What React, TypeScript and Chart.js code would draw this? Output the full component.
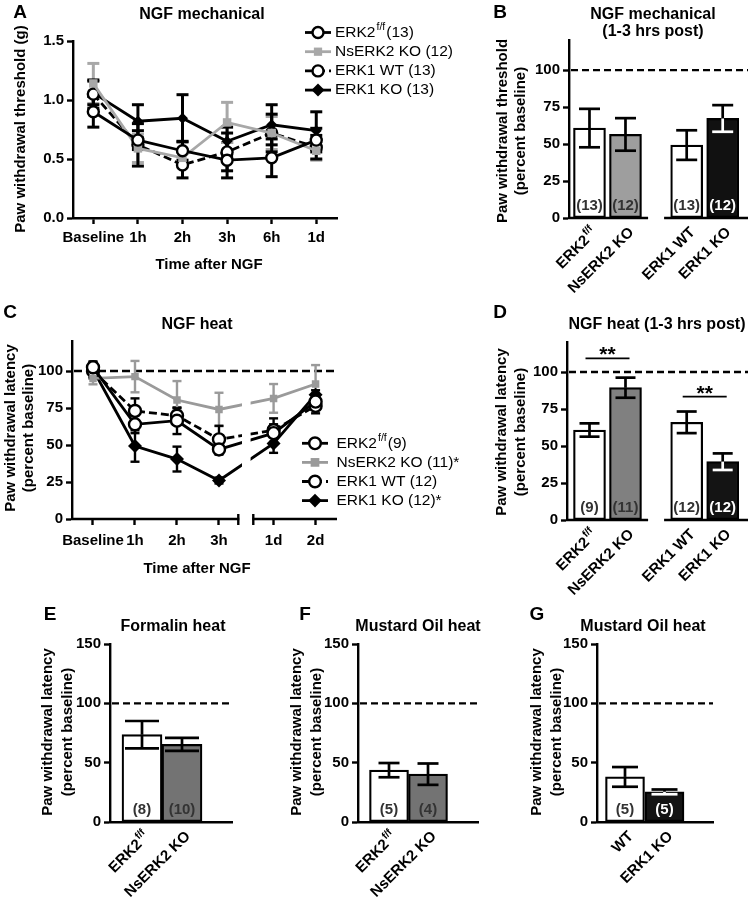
import { useEffect, useRef } from "react";
import { Chart, registerables } from "chart.js";

Chart.register(...registerables);

const FONT = "'Liberation Sans', Arial, Helvetica, sans-serif";
const W = 748;
const H = 899;

// ---------------- Data ----------------
// A: NGF mechanical, paw withdrawal threshold (g)
const mechTimes = ["Baseline", "1h", "2h", "3h", "6h", "1d"];
const mechErk2ff = [0.9, 0.66, 0.57, 0.49, 0.51, 0.66];
const mechErk2ffSem = [0.13, 0.08, 0.08, 0.15, 0.16, 0.1];
const mechNsErk2 = [1.14, 0.59, 0.51, 0.81, 0.72, 0.57];
const mechNsErk2Sem = [0.17, 0.12, 0.07, 0.17, 0.14, 0.08];
const mechErk1Wt = [1.05, 0.62, 0.45, 0.56, 0.72, 0.6];
const mechErk1WtSem = [0.12, 0.18, 0.11, 0.16, 0.16, 0.1];
const mechErk1Ko = [1.06, 0.82, 0.845, 0.65, 0.79, 0.74];
const mechErk1KoSem = [0.1, 0.14, 0.2, 0.12, 0.17, 0.16];
const mechLegend = ["ERK2^{f/f}(13)", "NsERK2 KO (12)", "ERK1 WT (13)", "ERK1 KO (13)"];

// C: NGF heat, percent baseline
const heatTimes = ["Baseline", "1h", "2h", "3h", "1d", "2d"];
const heatErk2ff = [102.5, 64, 66.4, 47, 58, 79.3];
const heatErk2ffSem = [4, 6, 9, 3.5, 6, 4];
const heatNsErk2 = [95, 96.2, 80.4, 74, 81.5, 91.2];
const heatNsErk2Sem = [4, 10.6, 12.8, 11.3, 9.7, 12.8];
const heatErk1Wt = [100, 73, 69.8, 53.8, 60, 76.4];
const heatErk1WtSem = [5, 8.5, 5, 9.2, 8, 5];
const heatErk1Ko = [101, 49.3, 40.5, 26, 51, 84];
const heatErk1KoSem = [5, 10.6, 8.4, 2, 6.3, 3];
const heatLegend = ["ERK2^{f/f}(9)", "NsERK2 KO (11)*", "ERK1 WT (12)", "ERK1 KO (12)*"];

// B: NGF mechanical (1-3 hrs post)
const groupLabels = ["ERK2^{f/f}", "NsERK2 KO", "ERK1 WT", "ERK1 KO"];
const mechPostMean = [60.8, 56.5, 49.3, 67.3];
const mechPostSem = [13, 11, 10, 9];
const mechPostN = ["(13)", "(12)", "(13)", "(12)"];

// D: NGF heat (1-3 hrs post)
const heatPostMean = [60.8, 89.4, 66, 39.4];
const heatPostSem = [4.5, 6.8, 7.3, 5.6];
const heatPostN = ["(9)", "(11)", "(12)", "(12)"];

// E: Formalin heat
const formalinLabels = ["ERK2^{f/f}", "NsERK2 KO"];
const formalinMean = [73.6, 65.4];
const formalinSem = [11.5, 5.5];
const formalinN = ["(8)", "(10)"];

// F: Mustard Oil heat (ERK2)
const mustardErk2Labels = ["ERK2^{f/f}", "NsERK2 KO"];
const mustardErk2Mean = [43.7, 40.3];
const mustardErk2Sem = [6, 9];
const mustardErk2N = ["(5)", "(4)"];

// G: Mustard Oil heat (ERK1)
const mustardErk1Labels = ["WT", "ERK1 KO"];
const mustardErk1Mean = [38, 25.4];
const mustardErk1Sem = [8.3, 2];
const mustardErk1N = ["(5)", "(5)"];

const pctTicks = [0, 25, 50, 75, 100];
const pctTicksWide = [0, 50, 100, 150];
const gramTicks = [0, 0.5, 1, 1.5];

// ---------------- Helpers ----------------
type Txt = { s: string; x: number; y: number; size: number; weight?: string; rot?: number; align?: CanvasTextAlign; color?: string };

function richParts(s: string) {
  const parts: { t: string; sup: boolean }[] = [];
  const re = /\^\{([^}]*)\}/g;
  let last = 0;
  let m: RegExpExecArray | null;
  while ((m = re.exec(s))) {
    if (m.index > last) parts.push({ t: s.slice(last, m.index), sup: false });
    parts.push({ t: m[1], sup: true });
    last = re.lastIndex;
  }
  if (last < s.length) parts.push({ t: s.slice(last), sup: false });
  return parts;
}

function drawRich(ctx: CanvasRenderingContext2D, s: string, x: number, y: number, size: number, weight: string, align: CanvasTextAlign, color: string) {
  const parts = richParts(s);
  const fontFor = (sup: boolean) => `${weight} ${sup ? size * 0.68 : size}px ${FONT}`;
  let total = 0;
  const widths = parts.map((p) => {
    ctx.font = fontFor(p.sup);
    const w = ctx.measureText(p.t).width + (p.sup ? 2 : 0);
    total += w;
    return w;
  });
  let cx = align === "left" ? x : align === "right" ? x - total : x - total / 2;
  ctx.textAlign = "left";
  ctx.fillStyle = color;
  parts.forEach((p, i) => {
    ctx.font = fontFor(p.sup);
    ctx.fillText(p.t, cx + (p.sup ? 1 : 0), p.sup ? y - size * 0.36 : y);
    cx += widths[i];
  });
}

function drawTxt(ctx: CanvasRenderingContext2D, t: Txt) {
  ctx.save();
  ctx.translate(t.x, t.y);
  if (t.rot) ctx.rotate(t.rot);
  ctx.textBaseline = "middle";
  drawRich(ctx, t.s, 0, 0, t.size, t.weight ?? "bold", t.align ?? "center", t.color ?? "#000");
  ctx.restore();
}

function seg(ctx: CanvasRenderingContext2D, x1: number, y1: number, x2: number, y2: number) {
  ctx.beginPath();
  ctx.moveTo(x1, y1);
  ctx.lineTo(x2, y2);
  ctx.stroke();
}

function pad(l: number, t: number, r: number, b: number, wy: number, hx: number) {
  return { left: l - wy, top: t, right: W - r, bottom: H - b - hx };
}

const tickFont = { family: FONT, size: 15, weight: "bold" as const };
const AXIS_W = 2.4;

function yAxis(max: number, ticks: number[], dec: number, wy: number) {
  return {
    type: "linear" as const,
    min: 0,
    max,
    afterBuildTicks: (s: any) => {
      s.ticks = ticks.map((v) => ({ value: v }));
    },
    afterFit: (s: any) => {
      s.width = wy;
    },
    ticks: { color: "#000", font: tickFont, padding: 3, callback: (v: any) => Number(v).toFixed(dec) },
    grid: { display: true, drawOnChartArea: false, drawTicks: true, tickLength: 6, tickWidth: AXIS_W, tickColor: "#000" },
    border: { display: true, color: "#000", width: AXIS_W },
  };
}

function xLinear(min: number, max: number, pos: number[], labels: string[], hx: number, padding: number, border: boolean) {
  return {
    type: "linear" as const,
    min,
    max,
    offset: false,
    afterBuildTicks: (s: any) => {
      s.ticks = pos.map((v) => ({ value: v }));
    },
    afterFit: (s: any) => {
      s.height = hx;
    },
    ticks: { autoSkip: false, maxRotation: 0, minRotation: 0, padding, color: "#000", font: tickFont, callback: (_v: any, i: number) => labels[i] },
    grid: { display: true, drawOnChartArea: false, drawTicks: true, tickLength: 6, tickWidth: AXIS_W, tickColor: "#000" },
    border: { display: border, color: "#000", width: AXIS_W },
  };
}

type Marker = "circle" | "square" | "diamond";
type SeriesStyle = { color: string; marker: Marker; dash: number[] };

function drawMarker(ctx: CanvasRenderingContext2D, m: Marker, x: number, y: number, color: string, r: number) {
  ctx.save();
  ctx.setLineDash([]);
  ctx.beginPath();
  if (m === "circle") {
    ctx.arc(x, y, r, 0, Math.PI * 2);
    ctx.fillStyle = "#fff";
    ctx.fill();
    ctx.lineWidth = 2.4;
    ctx.strokeStyle = color;
    ctx.stroke();
  } else if (m === "square") {
    ctx.fillStyle = color;
    ctx.fillRect(x - r * 0.75, y - r * 0.75, r * 1.5, r * 1.5);
  } else {
    ctx.moveTo(x - r, y);
    ctx.lineTo(x, y - r);
    ctx.lineTo(x + r, y);
    ctx.lineTo(x, y + r);
    ctx.closePath();
    ctx.fillStyle = color;
    ctx.fill();
  }
  ctx.restore();
}

function drawLegend(ctx: CanvasRenderingContext2D, styles: SeriesStyle[], labels: string[], mx: number, y0: number, dy: number, tx: number, size: number, r: number) {
  styles.forEach((st, i) => {
    const y = y0 + i * dy;
    ctx.save();
    ctx.strokeStyle = st.color;
    ctx.lineWidth = 2.8;
    ctx.setLineDash(st.dash);
    seg(ctx, mx - 13, y, mx + 13, y);
    ctx.restore();
    drawMarker(ctx, st.marker, mx, y, st.color, st.marker === "diamond" ? r + 1 : r);
    drawTxt(ctx, { s: labels[i], x: tx, y, size, weight: "normal", align: "left" });
  });
}

function lineDs(values: number[], sem: number[], pos: number[], st: SeriesStyle, sz: { circle: number; square: number; diamond: number }) {
  const ps = st.marker === "circle" ? "circle" : st.marker === "square" ? "rect" : "rectRot";
  const r = st.marker === "circle" ? sz.circle : st.marker === "square" ? sz.square : sz.diamond;
  return {
    data: values.map((v, i) => ({ x: pos[i], y: v })),
    errors: sem,
    errColor: st.color,
    borderColor: st.color,
    borderWidth: 2.8,
    borderDash: st.dash,
    pointStyle: ps,
    pointRadius: r,
    pointHoverRadius: r,
    pointBackgroundColor: st.marker === "circle" ? "#fff" : st.color,
    pointBorderColor: st.color,
    pointBorderWidth: st.marker === "circle" ? 2.4 : 0,
    tension: 0,
    fill: false,
  };
}

function drawErrBars(chart: any, cap: number, lw: number) {
  const ctx: CanvasRenderingContext2D = chart.ctx;
  const ys = chart.scales.y;
  chart.data.datasets.forEach((ds: any, di: number) => {
    if (!ds.errors) return;
    const meta = chart.getDatasetMeta(di);
    meta.data.forEach((el: any, j: number) => {
      const v = ds.data[j].y;
      const e = ds.errors[j];
      const x = el.x;
      const yc = ys.getPixelForValue(v);
      const yt = ys.getPixelForValue(v + e);
      const yb = ys.getPixelForValue(v - e);
      const up = Array.isArray(ds.errColor) ? ds.errColor[j] : ds.errColor;
      const down = ds.errColorDown ? ds.errColorDown[j] : up;
      ctx.save();
      ctx.lineWidth = lw;
      ctx.setLineDash([]);
      ctx.strokeStyle = up;
      seg(ctx, x, yc, x, yt);
      seg(ctx, x - cap / 2, yt, x + cap / 2, yt);
      ctx.strokeStyle = down;
      seg(ctx, x, yc, x, yb);
      seg(ctx, x - cap / 2, yb, x + cap / 2, yb);
      ctx.restore();
    });
  });
}

function drawRefLine(chart: any, value: number, dash: number[]) {
  const ctx: CanvasRenderingContext2D = chart.ctx;
  const a = chart.chartArea;
  const y = chart.scales.y.getPixelForValue(value);
  ctx.save();
  ctx.strokeStyle = "#000";
  ctx.lineWidth = 2.3;
  ctx.setLineDash(dash);
  seg(ctx, a.left + 2, y, a.right, y);
  ctx.restore();
}

const R90 = -Math.PI / 2;

const styleErk2ff: SeriesStyle = { color: "#000", marker: "circle", dash: [] };
const styleNsErk2A: SeriesStyle = { color: "#a8a8a8", marker: "square", dash: [] };
const styleNsErk2C: SeriesStyle = { color: "#9a9a9a", marker: "square", dash: [] };
const styleErk1Wt: SeriesStyle = { color: "#000", marker: "circle", dash: [8, 4] };
const styleErk1Ko: SeriesStyle = { color: "#000", marker: "diamond", dash: [] };

const baseOptions = {
  animation: false as const,
  responsive: false,
  devicePixelRatio: 1,
  events: [] as any[],
  plugins: { legend: { display: false }, tooltip: { enabled: false }, title: { display: false } },
};

// ---------------- Panel A ----------------
function configA() {
  const pos = mechTimes.map((_, i) => i);
  const stylesA = [styleErk2ff, styleNsErk2A, styleErk1Wt, styleErk1Ko];
  const sz = { circle: 5.5, square: 6, diamond: 5.5 };
  const texts: Txt[] = [
    { s: "A", x: 20, y: 13, size: 19 },
    { s: "NGF mechanical", x: 202, y: 15, size: 16 },
    { s: "Paw withdrawal threshold (g)", x: 21, y: 129, size: 15, rot: R90 },
    { s: "Time after NGF", x: 209, y: 265, size: 15 },
  ];
  return {
    type: "line" as const,
    data: {
      datasets: [
        lineDs(mechErk2ff, mechErk2ffSem, pos, styleErk2ff, sz),
        lineDs(mechNsErk2, mechNsErk2Sem, pos, styleNsErk2A, sz),
        lineDs(mechErk1Wt, mechErk1WtSem, pos, styleErk1Wt, sz),
        lineDs(mechErk1Ko, mechErk1KoSem, pos, styleErk1Ko, sz),
      ],
    },
    options: {
      ...baseOptions,
      layout: { padding: pad(73, 41, 337, 218, 60, 40) },
      scales: {
        x: xLinear(-0.456, 5.465, pos, mechTimes, 40, 5, true),
        y: yAxis(1.5, gramTicks, 1, 60),
      },
    },
    plugins: [
      {
        id: "panelA",
        beforeDatasetsDraw(chart: any) {
          drawErrBars(chart, 12, 3);
        },
        afterDraw(chart: any) {
          const ctx = chart.ctx;
          drawLegend(ctx, stylesA, mechLegend, 318, 32.5, 19.2, 335, 15.5, 5.5);
          texts.forEach((t) => drawTxt(ctx, t));
        },
      },
    ],
  };
}

// ---------------- Panel C ----------------
function configC() {
  const pos = heatTimes.map((_, i) => i + (i >= 4 ? 0.3 : 0));
  const stylesC = [styleErk2ff, styleNsErk2C, styleErk1Wt, styleErk1Ko];
  const sz = { circle: 6, square: 5.3, diamond: 7 };
  const texts: Txt[] = [
    { s: "C", x: 10, y: 313, size: 19 },
    { s: "NGF heat", x: 197, y: 325, size: 16 },
    { s: "Paw withdrawal latency", x: 11, y: 428, size: 15, rot: R90 },
    { s: "(percent baseline)", x: 28.5, y: 428, size: 15, rot: R90 },
    { s: "Time after NGF", x: 197, y: 569, size: 15 },
  ];
  const gapPos = (pos[3] + pos[4]) / 2;
  return {
    type: "line" as const,
    data: {
      datasets: [
        lineDs(heatErk2ff, heatErk2ffSem, pos, styleErk2ff, sz),
        lineDs(heatNsErk2, heatNsErk2Sem, pos, styleNsErk2C, sz),
        lineDs(heatErk1Wt, heatErk1WtSem, pos, styleErk1Wt, sz),
        lineDs(heatErk1Ko, heatErk1KoSem, pos, styleErk1Ko, sz),
      ],
    },
    options: {
      ...baseOptions,
      layout: { padding: pad(72, 341.4, 337, 519, 60, 40) },
      scales: {
        x: xLinear(-0.5, 5.81, pos, heatTimes, 40, 7, false),
        y: yAxis(120, pctTicks, 0, 60),
      },
    },
    plugins: [
      {
        id: "panelC",
        beforeDatasetsDraw(chart: any) {
          drawRefLine(chart, 100, [8, 4]);
          drawErrBars(chart, 9, 2.4);
        },
        afterDatasetsDraw(chart: any) {
          const ctx: CanvasRenderingContext2D = chart.ctx;
          const a = chart.chartArea;
          const gx = chart.scales.x.getPixelForValue(gapPos);
          // break in the data lines
          ctx.save();
          ctx.fillStyle = "#fff";
          ctx.fillRect(gx - 4.3, a.top - 2, 8.6, a.bottom - a.top);
          ctx.beginPath();
          ctx.rect(gx - 4.3, a.top - 2, 8.6, a.bottom - a.top);
          ctx.clip();
          drawRefLine(chart, 100, [8, 4]);
          ctx.restore();
          // broken x axis
          ctx.save();
          ctx.strokeStyle = "#000";
          ctx.lineWidth = AXIS_W;
          seg(ctx, a.left - 1, a.bottom, gx - 7, a.bottom);
          seg(ctx, gx + 6, a.bottom, a.right, a.bottom);
          seg(ctx, gx - 8, a.bottom - 5, gx - 8, a.bottom + 6);
          seg(ctx, gx + 7, a.bottom - 5, gx + 7, a.bottom + 6);
          ctx.restore();
        },
        afterDraw(chart: any) {
          const ctx = chart.ctx;
          drawLegend(ctx, stylesC, heatLegend, 315, 443.3, 19.1, 336.5, 15.5, 5.8);
          texts.forEach((t) => drawTxt(ctx, t));
        },
      },
    ],
  };
}

// ---------------- Bar panels ----------------
type BarSpec = {
  id: string;
  labels: string[];
  means: number[];
  sems: number[];
  ns: string[];
  fills: string[];
  pos: number[];
  thickness: number;
  area: [number, number, number, number];
  xMin: number;
  xMax: number;
  yMax: number;
  yTicks: number[];
  cap: number;
  breakAt?: number;
  sig?: [number, number, number][];
  texts: Txt[];
};

function isDark(c: string) {
  return c === "#111" || c === "#000" || c === "#141414";
}

function configBar(sp: BarSpec) {
  const [l, t, r, b] = sp.area;
  return {
    type: "bar" as const,
    data: {
      datasets: [
        {
          data: sp.means.map((v, i) => ({ x: sp.pos[i], y: v })),
          errors: sp.sems,
          errColor: "#000",
          errColorDown: sp.fills.map((f) => (isDark(f) ? "#fff" : "#000")),
          backgroundColor: sp.fills,
          borderColor: "#000",
          borderWidth: 2.2,
          borderSkipped: false,
          barThickness: sp.thickness,
        },
      ],
    },
    options: {
      ...baseOptions,
      layout: { padding: pad(l, t, r, b, 60, 10) },
      scales: {
        x: {
          type: "linear" as const,
          min: sp.xMin,
          max: sp.xMax,
          offset: false,
          afterFit: (s: any) => {
            s.height = 10;
          },
          ticks: { display: false },
          grid: { display: false },
          border: { display: sp.breakAt === undefined, color: "#000", width: AXIS_W },
        },
        y: yAxis(sp.yMax, sp.yTicks, 0, 60),
      },
    },
    plugins: [
      {
        id: sp.id,
        beforeDatasetsDraw(chart: any) {
          drawRefLine(chart, 100, [7, 4]);
        },
        afterDatasetsDraw(chart: any) {
          const ctx: CanvasRenderingContext2D = chart.ctx;
          const a = chart.chartArea;
          const xs = chart.scales.x;
          const ys = chart.scales.y;
          drawErrBars(chart, sp.cap, 2.7);
          const y0 = ys.getPixelForValue(0);
          sp.ns.forEach((n, i) => {
            drawTxt(ctx, { s: n, x: xs.getPixelForValue(sp.pos[i]), y: y0 - 12, size: 15, color: isDark(sp.fills[i]) ? "#fff" : "#333" });
          });
          if (sp.breakAt !== undefined) {
            const gx = xs.getPixelForValue(sp.breakAt);
            ctx.save();
            ctx.strokeStyle = "#000";
            ctx.lineWidth = AXIS_W;
            seg(ctx, a.left - 1, a.bottom, gx - 8, a.bottom);
            seg(ctx, gx + 8, a.bottom, a.right, a.bottom);
            ctx.restore();
          }
          (sp.sig || []).forEach(([i, j, off]) => {
            const x1 = xs.getPixelForValue(sp.pos[i]);
            const x2 = xs.getPixelForValue(sp.pos[j]);
            const top = Math.max(sp.means[i] + sp.sems[i], sp.means[j] + sp.sems[j]) + off;
            const y = ys.getPixelForValue(top);
            const mid = (x1 + x2) / 2;
            ctx.save();
            ctx.strokeStyle = "#000";
            ctx.lineWidth = 1.8;
            seg(ctx, mid - 22, y, mid + 22, y);
            ctx.font = `bold 21px ${FONT}`;
            ctx.textAlign = "center";
            ctx.textBaseline = "alphabetic";
            ctx.fillStyle = "#000";
            ctx.fillText("**", mid, y + 3);
            ctx.restore();
          });
        },
        afterDraw(chart: any) {
          const ctx: CanvasRenderingContext2D = chart.ctx;
          const a = chart.chartArea;
          const xs = chart.scales.x;
          sp.labels.forEach((lab, i) => {
            const x = xs.getPixelForValue(sp.pos[i]);
            drawTxt(ctx, { s: lab, x: x + 6, y: a.bottom + 12, size: 15, rot: -Math.PI / 4, align: "right" });
          });
          sp.texts.forEach((tx) => drawTxt(ctx, tx));
        },
      },
    ],
  };
}

const groupPos = groupLabels.map((_, i) => i + (i >= 2 ? 0.7 : 0));

function configB() {
  return configBar({
    id: "panelB",
    labels: groupLabels,
    means: mechPostMean,
    sems: mechPostSem,
    ns: mechPostN,
    fills: ["#fff", "#9e9e9e", "#fff", "#111"],
    pos: groupPos,
    thickness: 32,
    area: [569, 40.5, 748, 218],
    xMin: -0.569,
    xMax: 4.403,
    yMax: 120,
    yTicks: pctTicks,
    cap: 21,
    breakAt: 1.85,
    texts: [
      { s: "B", x: 500, y: 13, size: 19 },
      { s: "NGF mechanical", x: 653, y: 15, size: 16 },
      { s: "(1-3 hrs post)", x: 653, y: 32, size: 16 },
      { s: "Paw withdrawal threshold", x: 503, y: 131, size: 15, rot: R90 },
      { s: "(percent baseline)", x: 521, y: 131, size: 15, rot: R90 },
    ],
  });
}

function configD() {
  return configBar({
    id: "panelD",
    labels: groupLabels,
    means: heatPostMean,
    sems: heatPostSem,
    ns: heatPostN,
    fills: ["#fff", "#808080", "#fff", "#141414"],
    pos: groupPos,
    thickness: 32,
    area: [567, 342.4, 748, 520],
    xMin: -0.625,
    xMax: 4.403,
    yMax: 120,
    yTicks: pctTicks,
    cap: 20,
    breakAt: 1.85,
    sig: [
      [0, 1, 13],
      [2, 3, 10],
    ],
    texts: [
      { s: "D", x: 500, y: 313, size: 19 },
      { s: "NGF heat (1-3 hrs post)", x: 657, y: 325, size: 16 },
      { s: "Paw withdrawal latency", x: 502, y: 432, size: 15, rot: R90 },
      { s: "(percent baseline)", x: 521, y: 432, size: 15, rot: R90 },
    ],
  });
}

function configE() {
  return configBar({
    id: "panelE",
    labels: formalinLabels,
    means: formalinMean,
    sems: formalinSem,
    ns: formalinN,
    fills: ["#fff", "#737373"],
    pos: formalinLabels.map((_, i) => i),
    thickness: 40,
    area: [110, 644, 232, 822],
    xMin: -0.8,
    xMax: 2.25,
    yMax: 150,
    yTicks: pctTicksWide,
    cap: 34,
    texts: [
      { s: "E", x: 50, y: 615, size: 19 },
      { s: "Formalin heat", x: 173, y: 627, size: 16 },
      { s: "Paw withdrawal latency", x: 48, y: 732, size: 15, rot: R90 },
      { s: "(percent baseline)", x: 68, y: 732, size: 15, rot: R90 },
    ],
  });
}

function configF() {
  return configBar({
    id: "panelF",
    labels: mustardErk2Labels,
    means: mustardErk2Mean,
    sems: mustardErk2Sem,
    ns: mustardErk2N,
    fills: ["#fff", "#737373"],
    pos: mustardErk2Labels.map((_, i) => i),
    thickness: 39,
    area: [358, 644, 478, 822],
    xMin: -0.795,
    xMax: 2.282,
    yMax: 150,
    yTicks: pctTicksWide,
    cap: 21,
    texts: [
      { s: "F", x: 305, y: 615, size: 19 },
      { s: "Mustard Oil heat", x: 418, y: 627, size: 16 },
      { s: "Paw withdrawal latency", x: 297, y: 732, size: 15, rot: R90 },
      { s: "(percent baseline)", x: 317, y: 732, size: 15, rot: R90 },
    ],
  });
}

function configG() {
  return configBar({
    id: "panelG",
    labels: mustardErk1Labels,
    means: mustardErk1Mean,
    sems: mustardErk1Sem,
    ns: mustardErk1N,
    fills: ["#fff", "#141414"],
    pos: mustardErk1Labels.map((_, i) => i),
    thickness: 39,
    area: [597, 644, 713, 822],
    xMin: -0.709,
    xMax: 2.228,
    yMax: 150,
    yTicks: pctTicksWide,
    cap: 26,
    texts: [
      { s: "G", x: 537, y: 615, size: 19 },
      { s: "Mustard Oil heat", x: 643, y: 627, size: 16 },
      { s: "Paw withdrawal latency", x: 537, y: 732, size: 15, rot: R90 },
      { s: "(percent baseline)", x: 557, y: 732, size: 15, rot: R90 },
    ],
  });
}

const panelConfigs = [configA, configB, configC, configD, configE, configF, configG];

export default function App() {
  const canvases = useRef<(HTMLCanvasElement | null)[]>([]);
  useEffect(() => {
    const charts = panelConfigs.map((mk, i) => new Chart(canvases.current[i] as HTMLCanvasElement, mk() as any));
    return () => charts.forEach((c) => c.destroy());
  }, []);
  return (
    <div style={{ position: "absolute", left: 0, top: 0, width: W, height: H, background: "#fff", overflow: "hidden" }}>
      {panelConfigs.map((_, i) => (
        <canvas
          key={i}
          ref={(el) => {
            canvases.current[i] = el;
          }}
          width={W}
          height={H}
          style={{ position: "absolute", left: 0, top: 0, width: W, height: H }}
        />
      ))}
    </div>
  );
}
